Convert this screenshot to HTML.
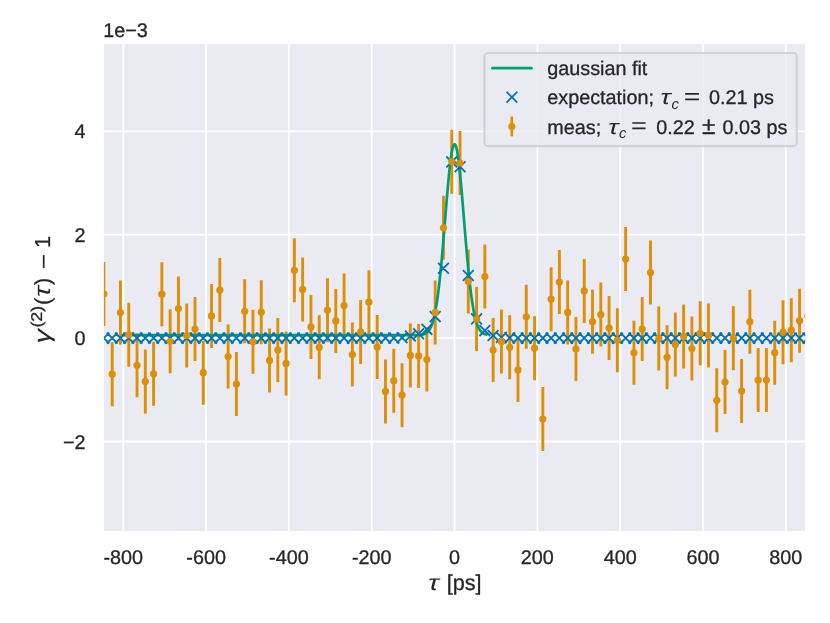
<!DOCTYPE html><html><head><meta charset="utf-8"><style>html,body{margin:0;padding:0;background:#fff}svg{display:block;will-change:transform}text{text-rendering:geometricPrecision;stroke:#262626;stroke-width:0.3px;font-family:"Liberation Sans",sans-serif;fill:#262626}</style></head><body>
<svg width="830" height="623" viewBox="0 0 830 623">
<rect width="830" height="623" fill="#fff"/>
<rect x="103.90" y="44.00" width="701.30" height="487.00" fill="#eaeaf2"/>
<defs><clipPath id="c"><rect x="103.90" y="44.00" width="701.30" height="487.00"/></clipPath></defs>
<g clip-path="url(#c)">
<path d="M123.28 44.00V531.00M206.10 44.00V531.00M288.91 44.00V531.00M371.73 44.00V531.00M454.55 44.00V531.00M537.37 44.00V531.00M620.19 44.00V531.00M703.00 44.00V531.00M785.82 44.00V531.00M103.90 441.50H805.20M103.90 338.10H805.20M103.90 234.70H805.20M103.90 131.30H805.20" stroke="#fff" stroke-width="1.8" fill="none"/>
<path d="M103.90 262.00V326.00M112.18 342.20V406.20M120.46 280.60V344.60M128.75 302.75V366.75M137.03 333.35V397.35M145.31 349.40V413.40M153.59 341.80V405.80M161.87 262.20V326.20M170.15 309.25V373.25M178.44 276.50V340.50M186.72 303.60V367.60M195.00 297.10V361.10M203.28 340.70V404.70M211.56 283.90V347.90M219.85 258.10V322.10M228.13 324.50V388.50M236.41 352.00V416.00M244.69 279.30V343.30M252.97 309.70V373.70M261.25 280.20V344.20M269.54 328.40V392.40M277.82 317.90V381.90M286.10 331.40V395.40M294.38 238.30V302.30M302.66 257.40V321.40M310.95 294.90V358.90M319.23 315.30V379.30M327.51 278.20V342.20M335.79 288.90V352.90M344.07 273.50V337.50M352.35 322.60V386.60M360.64 299.90V363.90M368.92 270.20V334.20M377.20 315.10V379.10M385.48 359.40V423.40M393.76 348.70V412.70M402.04 363.20V427.20M410.33 323.40V387.40M418.61 323.90V387.90M426.89 327.50V391.50M435.17 280.40V344.40M443.45 195.80V259.80M451.74 129.70V193.70M460.02 131.00V195.00M468.30 249.60V313.60M476.58 286.90V350.90M484.86 244.60V308.60M493.14 318.00V382.00M501.43 309.40V373.40M509.71 315.30V379.30M517.99 337.90V401.90M526.27 284.75V348.75M534.55 316.20V380.20M542.84 387.10V451.10M551.12 267.20V331.20M559.40 250.05V314.05M567.68 280.40V344.40M575.96 317.00V381.00M584.24 258.90V322.90M592.53 289.70V353.70M600.81 282.60V346.60M609.09 296.00V360.00M617.37 308.20V372.20M625.65 227.10V291.10M633.94 320.75V384.75M642.22 297.10V361.10M650.50 240.60V304.60M658.78 306.40V370.40M667.06 325.30V389.30M675.34 312.60V376.60M683.63 304.40V368.40M691.91 316.50V380.50M700.19 301.30V365.30M708.47 303.40V367.40M716.75 368.30V432.30M725.03 350.00V414.00M733.32 306.20V370.20M741.60 359.10V423.10M749.88 289.70V353.70M758.16 348.10V412.10M766.44 348.10V412.10M774.73 320.65V384.65M783.01 300.20V364.20M791.29 298.20V362.20M799.57 288.65V352.65M807.85 284.10V348.10" stroke="#de8f05" stroke-width="2.9" fill="none"/>
<polyline points="122.90,335.20 123.40,335.20 123.90,335.20 124.40,335.20 124.90,335.20 125.40,335.20 125.90,335.20 126.40,335.20 126.90,335.20 127.40,335.20 127.90,335.20 128.40,335.20 128.90,335.20 129.40,335.20 129.90,335.20 130.40,335.20 130.90,335.20 131.40,335.20 131.90,335.20 132.40,335.20 132.90,335.20 133.40,335.20 133.90,335.20 134.40,335.20 134.90,335.20 135.40,335.20 135.90,335.20 136.40,335.20 136.90,335.20 137.40,335.20 137.90,335.20 138.40,335.20 138.90,335.20 139.40,335.20 139.90,335.20 140.40,335.20 140.90,335.20 141.40,335.20 141.90,335.20 142.40,335.20 142.90,335.20 143.40,335.20 143.90,335.20 144.40,335.20 144.90,335.20 145.40,335.20 145.90,335.20 146.40,335.20 146.90,335.20 147.40,335.20 147.90,335.20 148.40,335.20 148.90,335.20 149.40,335.20 149.90,335.20 150.40,335.20 150.90,335.20 151.40,335.20 151.90,335.20 152.40,335.20 152.90,335.20 153.40,335.20 153.90,335.20 154.40,335.20 154.90,335.20 155.40,335.20 155.90,335.20 156.40,335.20 156.90,335.20 157.40,335.20 157.90,335.20 158.40,335.20 158.90,335.20 159.40,335.20 159.90,335.20 160.40,335.20 160.90,335.20 161.40,335.20 161.90,335.20 162.40,335.20 162.90,335.20 163.40,335.20 163.90,335.20 164.40,335.20 164.90,335.20 165.40,335.20 165.90,335.20 166.40,335.20 166.90,335.20 167.40,335.20 167.90,335.20 168.40,335.20 168.90,335.20 169.40,335.20 169.90,335.20 170.40,335.20 170.90,335.20 171.40,335.20 171.90,335.20 172.40,335.20 172.90,335.20 173.40,335.20 173.90,335.20 174.40,335.20 174.90,335.20 175.40,335.20 175.90,335.20 176.40,335.20 176.90,335.20 177.40,335.20 177.90,335.20 178.40,335.20 178.90,335.20 179.40,335.20 179.90,335.20 180.40,335.20 180.90,335.20 181.40,335.20 181.90,335.20 182.40,335.20 182.90,335.20 183.40,335.20 183.90,335.20 184.40,335.20 184.90,335.20 185.40,335.20 185.90,335.20 186.40,335.20 186.90,335.20 187.40,335.20 187.90,335.20 188.40,335.20 188.90,335.20 189.40,335.20 189.90,335.20 190.40,335.20 190.90,335.20 191.40,335.20 191.90,335.20 192.40,335.20 192.90,335.20 193.40,335.20 193.90,335.20 194.40,335.20 194.90,335.20 195.40,335.20 195.90,335.20 196.40,335.20 196.90,335.20 197.40,335.20 197.90,335.20 198.40,335.20 198.90,335.20 199.40,335.20 199.90,335.20 200.40,335.20 200.90,335.20 201.40,335.20 201.90,335.20 202.40,335.20 202.90,335.20 203.40,335.20 203.90,335.20 204.40,335.20 204.90,335.20 205.40,335.20 205.90,335.20 206.40,335.20 206.90,335.20 207.40,335.20 207.90,335.20 208.40,335.20 208.90,335.20 209.40,335.20 209.90,335.20 210.40,335.20 210.90,335.20 211.40,335.20 211.90,335.20 212.40,335.20 212.90,335.20 213.40,335.20 213.90,335.20 214.40,335.20 214.90,335.20 215.40,335.20 215.90,335.20 216.40,335.20 216.90,335.20 217.40,335.20 217.90,335.20 218.40,335.20 218.90,335.20 219.40,335.20 219.90,335.20 220.40,335.20 220.90,335.20 221.40,335.20 221.90,335.20 222.40,335.20 222.90,335.20 223.40,335.20 223.90,335.20 224.40,335.20 224.90,335.20 225.40,335.20 225.90,335.20 226.40,335.20 226.90,335.20 227.40,335.20 227.90,335.20 228.40,335.20 228.90,335.20 229.40,335.20 229.90,335.20 230.40,335.20 230.90,335.20 231.40,335.20 231.90,335.20 232.40,335.20 232.90,335.20 233.40,335.20 233.90,335.20 234.40,335.20 234.90,335.20 235.40,335.20 235.90,335.20 236.40,335.20 236.90,335.20 237.40,335.20 237.90,335.20 238.40,335.20 238.90,335.20 239.40,335.20 239.90,335.20 240.40,335.20 240.90,335.20 241.40,335.20 241.90,335.20 242.40,335.20 242.90,335.20 243.40,335.20 243.90,335.20 244.40,335.20 244.90,335.20 245.40,335.20 245.90,335.20 246.40,335.20 246.90,335.20 247.40,335.20 247.90,335.20 248.40,335.20 248.90,335.20 249.40,335.20 249.90,335.20 250.40,335.20 250.90,335.20 251.40,335.20 251.90,335.20 252.40,335.20 252.90,335.20 253.40,335.20 253.90,335.20 254.40,335.20 254.90,335.20 255.40,335.20 255.90,335.20 256.40,335.20 256.90,335.20 257.40,335.20 257.90,335.20 258.40,335.20 258.90,335.20 259.40,335.20 259.90,335.20 260.40,335.20 260.90,335.20 261.40,335.20 261.90,335.20 262.40,335.20 262.90,335.20 263.40,335.20 263.90,335.20 264.40,335.20 264.90,335.20 265.40,335.20 265.90,335.20 266.40,335.20 266.90,335.20 267.40,335.20 267.90,335.20 268.40,335.20 268.90,335.20 269.40,335.20 269.90,335.20 270.40,335.20 270.90,335.20 271.40,335.20 271.90,335.20 272.40,335.20 272.90,335.20 273.40,335.20 273.90,335.20 274.40,335.20 274.90,335.20 275.40,335.20 275.90,335.20 276.40,335.20 276.90,335.20 277.40,335.20 277.90,335.20 278.40,335.20 278.90,335.20 279.40,335.20 279.90,335.20 280.40,335.20 280.90,335.20 281.40,335.20 281.90,335.20 282.40,335.20 282.90,335.20 283.40,335.20 283.90,335.20 284.40,335.20 284.90,335.20 285.40,335.20 285.90,335.20 286.40,335.20 286.90,335.20 287.40,335.20 287.90,335.20 288.40,335.20 288.90,335.20 289.40,335.20 289.90,335.20 290.40,335.20 290.90,335.20 291.40,335.20 291.90,335.20 292.40,335.20 292.90,335.20 293.40,335.20 293.90,335.20 294.40,335.20 294.90,335.20 295.40,335.20 295.90,335.20 296.40,335.20 296.90,335.20 297.40,335.20 297.90,335.20 298.40,335.20 298.90,335.20 299.40,335.20 299.90,335.20 300.40,335.20 300.90,335.20 301.40,335.20 301.90,335.20 302.40,335.20 302.90,335.20 303.40,335.20 303.90,335.20 304.40,335.20 304.90,335.20 305.40,335.20 305.90,335.20 306.40,335.20 306.90,335.20 307.40,335.20 307.90,335.20 308.40,335.20 308.90,335.20 309.40,335.20 309.90,335.20 310.40,335.20 310.90,335.20 311.40,335.20 311.90,335.20 312.40,335.20 312.90,335.20 313.40,335.20 313.90,335.20 314.40,335.20 314.90,335.20 315.40,335.20 315.90,335.20 316.40,335.20 316.90,335.20 317.40,335.20 317.90,335.20 318.40,335.20 318.90,335.20 319.40,335.20 319.90,335.20 320.40,335.20 320.90,335.20 321.40,335.20 321.90,335.20 322.40,335.20 322.90,335.20 323.40,335.20 323.90,335.20 324.40,335.20 324.90,335.20 325.40,335.20 325.90,335.20 326.40,335.20 326.90,335.20 327.40,335.20 327.90,335.20 328.40,335.20 328.90,335.20 329.40,335.20 329.90,335.20 330.40,335.20 330.90,335.20 331.40,335.20 331.90,335.20 332.40,335.20 332.90,335.20 333.40,335.20 333.90,335.20 334.40,335.20 334.90,335.20 335.40,335.20 335.90,335.20 336.40,335.20 336.90,335.20 337.40,335.20 337.90,335.20 338.40,335.20 338.90,335.20 339.40,335.20 339.90,335.20 340.40,335.20 340.90,335.20 341.40,335.20 341.90,335.20 342.40,335.20 342.90,335.20 343.40,335.20 343.90,335.20 344.40,335.20 344.90,335.20 345.40,335.20 345.90,335.20 346.40,335.20 346.90,335.20 347.40,335.20 347.90,335.20 348.40,335.20 348.90,335.20 349.40,335.20 349.90,335.20 350.40,335.20 350.90,335.20 351.40,335.20 351.90,335.20 352.40,335.20 352.90,335.20 353.40,335.20 353.90,335.20 354.40,335.20 354.90,335.20 355.40,335.20 355.90,335.20 356.40,335.20 356.90,335.20 357.40,335.20 357.90,335.20 358.40,335.20 358.90,335.20 359.40,335.20 359.90,335.20 360.40,335.20 360.90,335.20 361.40,335.20 361.90,335.20 362.40,335.20 362.90,335.20 363.40,335.20 363.90,335.20 364.40,335.20 364.90,335.20 365.40,335.20 365.90,335.20 366.40,335.20 366.90,335.20 367.40,335.20 367.90,335.20 368.40,335.20 368.90,335.20 369.40,335.20 369.90,335.20 370.40,335.20 370.90,335.20 371.40,335.20 371.90,335.20 372.40,335.20 372.90,335.20 373.40,335.20 373.90,335.20 374.40,335.20 374.90,335.20 375.40,335.20 375.90,335.20 376.40,335.20 376.90,335.20 377.40,335.20 377.90,335.20 378.40,335.20 378.90,335.20 379.40,335.20 379.90,335.20 380.40,335.20 380.90,335.20 381.40,335.20 381.90,335.20 382.40,335.20 382.90,335.20 383.40,335.20 383.90,335.20 384.40,335.20 384.90,335.20 385.40,335.20 385.90,335.20 386.40,335.20 386.90,335.20 387.40,335.20 387.90,335.20 388.40,335.20 388.90,335.20 389.40,335.20 389.90,335.20 390.40,335.20 390.90,335.20 391.40,335.20 391.90,335.20 392.40,335.20 392.90,335.20 393.40,335.20 393.90,335.20 394.40,335.20 394.90,335.20 395.40,335.20 395.90,335.20 396.40,335.20 396.90,335.20 397.40,335.20 397.90,335.20 398.40,335.20 398.90,335.20 399.40,335.20 399.90,335.20 400.40,335.20 400.90,335.20 401.40,335.20 401.90,335.20 402.40,335.20 402.90,335.20 403.40,335.20 403.90,335.20 404.40,335.20 404.90,335.20 405.40,335.20 405.90,335.20 406.40,335.20 406.90,335.20 407.40,335.20 407.90,335.20 408.40,335.20 408.90,335.20 409.40,335.20 409.90,335.20 410.40,335.20 410.90,335.20 411.40,335.19 411.90,335.19 412.40,335.19 412.90,335.19 413.40,335.19 413.90,335.18 414.40,335.18 414.90,335.17 415.40,335.16 415.90,335.16 416.40,335.15 416.90,335.13 417.40,335.12 417.90,335.10 418.40,335.08 418.90,335.05 419.40,335.01 419.90,334.97 420.40,334.93 420.90,334.87 421.40,334.80 421.90,334.72 422.40,334.62 422.90,334.51 423.40,334.38 423.90,334.22 424.40,334.04 424.90,333.82 425.40,333.58 425.90,333.29 426.40,332.96 426.90,332.58 427.40,332.15 427.90,331.65 428.40,331.08 428.90,330.44 429.40,329.71 429.90,328.89 430.40,327.96 430.90,326.92 431.40,325.76 431.90,324.47 432.40,323.03 432.90,321.44 433.40,319.68 433.90,317.75 434.40,315.64 434.90,313.33 435.40,310.81 435.90,308.08 436.40,305.13 436.90,301.96 437.40,298.55 437.90,294.90 438.40,291.02 438.90,286.90 439.40,282.54 439.90,277.94 440.40,273.13 440.90,268.09 441.40,262.85 441.90,257.42 442.40,251.82 442.90,246.06 443.40,240.17 443.90,234.18 444.40,228.11 444.90,221.99 445.40,215.86 445.90,209.75 446.40,203.69 446.90,197.73 447.40,191.90 447.90,186.25 448.40,180.80 448.90,175.61 449.40,170.70 449.90,166.11 450.40,161.88 450.90,158.05 451.40,154.64 451.90,151.68 452.40,149.19 452.90,147.19 453.40,145.71 453.90,144.75 454.40,144.32 454.90,144.43 455.40,145.07 455.90,146.24 456.40,147.93 456.90,150.12 457.40,152.80 457.90,155.95 458.40,159.53 458.90,163.53 459.40,167.90 459.90,172.62 460.40,177.65 460.90,182.95 461.40,188.49 461.90,194.22 462.40,200.10 462.90,206.10 463.40,212.19 463.90,218.31 464.40,224.44 464.90,230.54 465.40,236.58 465.90,242.54 466.40,248.38 466.90,254.08 467.40,259.61 467.90,264.97 468.40,270.13 468.90,275.08 469.40,279.81 469.90,284.31 470.40,288.57 470.90,292.60 471.40,296.39 471.90,299.94 472.40,303.25 472.90,306.34 473.40,309.20 473.90,311.84 474.40,314.27 474.90,316.51 475.40,318.55 475.90,320.41 476.40,322.09 476.90,323.62 477.40,325.00 477.90,326.24 478.40,327.35 478.90,328.35 479.40,329.23 479.90,330.01 480.40,330.71 480.90,331.32 481.40,331.86 481.90,332.33 482.40,332.74 482.90,333.10 483.40,333.41 483.90,333.68 484.40,333.91 484.90,334.11 485.40,334.28 485.90,334.43 486.40,334.56" stroke="#029e73" stroke-width="2.7" fill="none" stroke-linecap="round" stroke-linejoin="round"/>
<path d="M98.50 332.70L109.30 343.50M98.50 343.50L109.30 332.70M106.78 332.70L117.58 343.50M106.78 343.50L117.58 332.70M115.06 332.70L125.86 343.50M115.06 343.50L125.86 332.70M123.35 332.70L134.15 343.50M123.35 343.50L134.15 332.70M131.63 332.70L142.43 343.50M131.63 343.50L142.43 332.70M139.91 332.70L150.71 343.50M139.91 343.50L150.71 332.70M148.19 332.70L158.99 343.50M148.19 343.50L158.99 332.70M156.47 332.70L167.27 343.50M156.47 343.50L167.27 332.70M164.75 332.70L175.55 343.50M164.75 343.50L175.55 332.70M173.04 332.70L183.84 343.50M173.04 343.50L183.84 332.70M181.32 332.70L192.12 343.50M181.32 343.50L192.12 332.70M189.60 332.70L200.40 343.50M189.60 343.50L200.40 332.70M197.88 332.70L208.68 343.50M197.88 343.50L208.68 332.70M206.16 332.70L216.96 343.50M206.16 343.50L216.96 332.70M214.45 332.70L225.25 343.50M214.45 343.50L225.25 332.70M222.73 332.70L233.53 343.50M222.73 343.50L233.53 332.70M231.01 332.70L241.81 343.50M231.01 343.50L241.81 332.70M239.29 332.70L250.09 343.50M239.29 343.50L250.09 332.70M247.57 332.70L258.37 343.50M247.57 343.50L258.37 332.70M255.85 332.70L266.65 343.50M255.85 343.50L266.65 332.70M264.14 332.70L274.94 343.50M264.14 343.50L274.94 332.70M272.42 332.70L283.22 343.50M272.42 343.50L283.22 332.70M280.70 332.70L291.50 343.50M280.70 343.50L291.50 332.70M288.98 332.70L299.78 343.50M288.98 343.50L299.78 332.70M297.26 332.70L308.06 343.50M297.26 343.50L308.06 332.70M305.55 332.70L316.35 343.50M305.55 343.50L316.35 332.70M313.83 332.70L324.63 343.50M313.83 343.50L324.63 332.70M322.11 332.70L332.91 343.50M322.11 343.50L332.91 332.70M330.39 332.70L341.19 343.50M330.39 343.50L341.19 332.70M338.67 332.70L349.47 343.50M338.67 343.50L349.47 332.70M346.95 332.70L357.75 343.50M346.95 343.50L357.75 332.70M355.24 332.70L366.04 343.50M355.24 343.50L366.04 332.70M363.52 332.70L374.32 343.50M363.52 343.50L374.32 332.70M371.80 332.70L382.60 343.50M371.80 343.50L382.60 332.70M380.08 332.70L390.88 343.50M380.08 343.50L390.88 332.70M388.36 332.70L399.16 343.50M388.36 343.50L399.16 332.70M396.64 332.30L407.44 343.10M396.64 343.10L407.44 332.30M404.93 330.60L415.73 341.40M404.93 341.40L415.73 330.60M413.21 328.40L424.01 339.20M413.21 339.20L424.01 328.40M421.49 323.95L432.29 334.75M421.49 334.75L432.29 323.95M429.77 311.20L440.57 322.00M429.77 322.00L440.57 311.20M438.05 262.80L448.85 273.60M438.05 273.60L448.85 262.80M446.34 156.50L457.14 167.30M446.34 167.30L457.14 156.50M454.62 161.40L465.42 172.20M454.62 172.20L465.42 161.40M462.90 270.10L473.70 280.90M462.90 280.90L473.70 270.10M471.18 313.50L481.98 324.30M471.18 324.30L481.98 313.50M479.46 325.20L490.26 336.00M479.46 336.00L490.26 325.20M487.74 330.10L498.54 340.90M487.74 340.90L498.54 330.10M496.03 331.95L506.83 342.75M496.03 342.75L506.83 331.95M504.31 332.50L515.11 343.30M504.31 343.30L515.11 332.50M512.59 332.70L523.39 343.50M512.59 343.50L523.39 332.70M520.87 332.70L531.67 343.50M520.87 343.50L531.67 332.70M529.15 332.70L539.95 343.50M529.15 343.50L539.95 332.70M537.44 332.70L548.24 343.50M537.44 343.50L548.24 332.70M545.72 332.70L556.52 343.50M545.72 343.50L556.52 332.70M554.00 332.70L564.80 343.50M554.00 343.50L564.80 332.70M562.28 332.70L573.08 343.50M562.28 343.50L573.08 332.70M570.56 332.70L581.36 343.50M570.56 343.50L581.36 332.70M578.84 332.70L589.64 343.50M578.84 343.50L589.64 332.70M587.13 332.70L597.93 343.50M587.13 343.50L597.93 332.70M595.41 332.70L606.21 343.50M595.41 343.50L606.21 332.70M603.69 332.70L614.49 343.50M603.69 343.50L614.49 332.70M611.97 332.70L622.77 343.50M611.97 343.50L622.77 332.70M620.25 332.70L631.05 343.50M620.25 343.50L631.05 332.70M628.54 332.70L639.34 343.50M628.54 343.50L639.34 332.70M636.82 332.70L647.62 343.50M636.82 343.50L647.62 332.70M645.10 332.70L655.90 343.50M645.10 343.50L655.90 332.70M653.38 332.70L664.18 343.50M653.38 343.50L664.18 332.70M661.66 332.70L672.46 343.50M661.66 343.50L672.46 332.70M669.94 332.70L680.74 343.50M669.94 343.50L680.74 332.70M678.23 332.70L689.03 343.50M678.23 343.50L689.03 332.70M686.51 332.70L697.31 343.50M686.51 343.50L697.31 332.70M694.79 332.70L705.59 343.50M694.79 343.50L705.59 332.70M703.07 332.70L713.87 343.50M703.07 343.50L713.87 332.70M711.35 332.70L722.15 343.50M711.35 343.50L722.15 332.70M719.63 332.70L730.43 343.50M719.63 343.50L730.43 332.70M727.92 332.70L738.72 343.50M727.92 343.50L738.72 332.70M736.20 332.70L747.00 343.50M736.20 343.50L747.00 332.70M744.48 332.70L755.28 343.50M744.48 343.50L755.28 332.70M752.76 332.70L763.56 343.50M752.76 343.50L763.56 332.70M761.04 332.70L771.84 343.50M761.04 343.50L771.84 332.70M769.33 332.70L780.13 343.50M769.33 343.50L780.13 332.70M777.61 332.70L788.41 343.50M777.61 343.50L788.41 332.70M785.89 332.70L796.69 343.50M785.89 343.50L796.69 332.70M794.17 332.70L804.97 343.50M794.17 343.50L804.97 332.70M802.45 332.70L813.25 343.50M802.45 343.50L813.25 332.70" stroke="#0173b2" stroke-width="1.8" fill="none"/>
<circle cx="103.90" cy="294.00" r="3.6" fill="#de8f05"/>
<circle cx="112.18" cy="374.20" r="3.6" fill="#de8f05"/>
<circle cx="120.46" cy="312.60" r="3.6" fill="#de8f05"/>
<circle cx="128.75" cy="334.75" r="3.6" fill="#de8f05"/>
<circle cx="137.03" cy="365.35" r="3.6" fill="#de8f05"/>
<circle cx="145.31" cy="381.40" r="3.6" fill="#de8f05"/>
<circle cx="153.59" cy="373.80" r="3.6" fill="#de8f05"/>
<circle cx="161.87" cy="294.20" r="3.6" fill="#de8f05"/>
<circle cx="170.15" cy="341.25" r="3.6" fill="#de8f05"/>
<circle cx="178.44" cy="308.50" r="3.6" fill="#de8f05"/>
<circle cx="186.72" cy="335.60" r="3.6" fill="#de8f05"/>
<circle cx="195.00" cy="329.10" r="3.6" fill="#de8f05"/>
<circle cx="203.28" cy="372.70" r="3.6" fill="#de8f05"/>
<circle cx="211.56" cy="315.90" r="3.6" fill="#de8f05"/>
<circle cx="219.85" cy="290.10" r="3.6" fill="#de8f05"/>
<circle cx="228.13" cy="356.50" r="3.6" fill="#de8f05"/>
<circle cx="236.41" cy="384.00" r="3.6" fill="#de8f05"/>
<circle cx="244.69" cy="311.30" r="3.6" fill="#de8f05"/>
<circle cx="252.97" cy="341.70" r="3.6" fill="#de8f05"/>
<circle cx="261.25" cy="312.20" r="3.6" fill="#de8f05"/>
<circle cx="269.54" cy="360.40" r="3.6" fill="#de8f05"/>
<circle cx="277.82" cy="349.90" r="3.6" fill="#de8f05"/>
<circle cx="286.10" cy="363.40" r="3.6" fill="#de8f05"/>
<circle cx="294.38" cy="270.30" r="3.6" fill="#de8f05"/>
<circle cx="302.66" cy="289.40" r="3.6" fill="#de8f05"/>
<circle cx="310.95" cy="326.90" r="3.6" fill="#de8f05"/>
<circle cx="319.23" cy="347.30" r="3.6" fill="#de8f05"/>
<circle cx="327.51" cy="310.20" r="3.6" fill="#de8f05"/>
<circle cx="335.79" cy="320.90" r="3.6" fill="#de8f05"/>
<circle cx="344.07" cy="305.50" r="3.6" fill="#de8f05"/>
<circle cx="352.35" cy="354.60" r="3.6" fill="#de8f05"/>
<circle cx="360.64" cy="331.90" r="3.6" fill="#de8f05"/>
<circle cx="368.92" cy="302.20" r="3.6" fill="#de8f05"/>
<circle cx="377.20" cy="347.10" r="3.6" fill="#de8f05"/>
<circle cx="385.48" cy="391.40" r="3.6" fill="#de8f05"/>
<circle cx="393.76" cy="380.70" r="3.6" fill="#de8f05"/>
<circle cx="402.04" cy="395.20" r="3.6" fill="#de8f05"/>
<circle cx="410.33" cy="355.40" r="3.6" fill="#de8f05"/>
<circle cx="418.61" cy="355.90" r="3.6" fill="#de8f05"/>
<circle cx="426.89" cy="359.50" r="3.6" fill="#de8f05"/>
<circle cx="435.17" cy="312.40" r="3.6" fill="#de8f05"/>
<circle cx="443.45" cy="227.80" r="3.6" fill="#de8f05"/>
<circle cx="451.74" cy="161.70" r="3.6" fill="#de8f05"/>
<circle cx="460.02" cy="163.00" r="3.6" fill="#de8f05"/>
<circle cx="468.30" cy="281.60" r="3.6" fill="#de8f05"/>
<circle cx="476.58" cy="318.90" r="3.6" fill="#de8f05"/>
<circle cx="484.86" cy="276.60" r="3.6" fill="#de8f05"/>
<circle cx="493.14" cy="350.00" r="3.6" fill="#de8f05"/>
<circle cx="501.43" cy="341.40" r="3.6" fill="#de8f05"/>
<circle cx="509.71" cy="347.30" r="3.6" fill="#de8f05"/>
<circle cx="517.99" cy="369.90" r="3.6" fill="#de8f05"/>
<circle cx="526.27" cy="316.75" r="3.6" fill="#de8f05"/>
<circle cx="534.55" cy="348.20" r="3.6" fill="#de8f05"/>
<circle cx="542.84" cy="419.10" r="3.6" fill="#de8f05"/>
<circle cx="551.12" cy="299.20" r="3.6" fill="#de8f05"/>
<circle cx="559.40" cy="282.05" r="3.6" fill="#de8f05"/>
<circle cx="567.68" cy="312.40" r="3.6" fill="#de8f05"/>
<circle cx="575.96" cy="349.00" r="3.6" fill="#de8f05"/>
<circle cx="584.24" cy="290.90" r="3.6" fill="#de8f05"/>
<circle cx="592.53" cy="321.70" r="3.6" fill="#de8f05"/>
<circle cx="600.81" cy="314.60" r="3.6" fill="#de8f05"/>
<circle cx="609.09" cy="328.00" r="3.6" fill="#de8f05"/>
<circle cx="617.37" cy="340.20" r="3.6" fill="#de8f05"/>
<circle cx="625.65" cy="259.10" r="3.6" fill="#de8f05"/>
<circle cx="633.94" cy="352.75" r="3.6" fill="#de8f05"/>
<circle cx="642.22" cy="329.10" r="3.6" fill="#de8f05"/>
<circle cx="650.50" cy="272.60" r="3.6" fill="#de8f05"/>
<circle cx="658.78" cy="338.40" r="3.6" fill="#de8f05"/>
<circle cx="667.06" cy="357.30" r="3.6" fill="#de8f05"/>
<circle cx="675.34" cy="344.60" r="3.6" fill="#de8f05"/>
<circle cx="683.63" cy="336.40" r="3.6" fill="#de8f05"/>
<circle cx="691.91" cy="348.50" r="3.6" fill="#de8f05"/>
<circle cx="700.19" cy="333.30" r="3.6" fill="#de8f05"/>
<circle cx="708.47" cy="335.40" r="3.6" fill="#de8f05"/>
<circle cx="716.75" cy="400.30" r="3.6" fill="#de8f05"/>
<circle cx="725.03" cy="382.00" r="3.6" fill="#de8f05"/>
<circle cx="733.32" cy="338.20" r="3.6" fill="#de8f05"/>
<circle cx="741.60" cy="391.10" r="3.6" fill="#de8f05"/>
<circle cx="749.88" cy="321.70" r="3.6" fill="#de8f05"/>
<circle cx="758.16" cy="380.10" r="3.6" fill="#de8f05"/>
<circle cx="766.44" cy="380.10" r="3.6" fill="#de8f05"/>
<circle cx="774.73" cy="352.65" r="3.6" fill="#de8f05"/>
<circle cx="783.01" cy="332.20" r="3.6" fill="#de8f05"/>
<circle cx="791.29" cy="330.20" r="3.6" fill="#de8f05"/>
<circle cx="799.57" cy="320.65" r="3.6" fill="#de8f05"/>
<circle cx="807.85" cy="316.10" r="3.6" fill="#de8f05"/>
</g>
<rect x="484.4" y="53.0" width="312.4" height="93.1" rx="3.6" fill="#eaeaf2" fill-opacity="0.8" stroke="#cccccc" stroke-opacity="0.85" stroke-width="2.1"/>
<path d="M492.4 68.15H531.5" stroke="#029e73" stroke-width="2.7" stroke-linecap="round"/>
<path d="M506.50 91.80L517.30 102.60M506.50 102.60L517.30 91.80" stroke="#0173b2" stroke-width="1.8"/>
<path d="M511.8 116.5V136.4" stroke="#de8f05" stroke-width="2.7"/><circle cx="511.8" cy="126.5" r="3.6" fill="#de8f05"/>
<text x="547.3" y="75.3" font-size="19.8">gaussian fit</text>
<text x="547.3" y="104.4" font-size="19.8">expectation;</text>
<text transform="translate(660.6 104.4) scale(1.3 1)" font-size="21" font-style="italic" style="stroke:none">τ</text>
<text x="671.5" y="108.6" font-size="14.7" font-style="italic" style="stroke:none">c</text>
<path d="M685.2 93.9H698.9M685.2 99.3H698.9" stroke="#262626" stroke-width="1.7"/>
<text x="708.9" y="104.4" font-size="19.8">0.21 ps</text>
<text x="547.3" y="133.5" font-size="19.8">meas;</text>
<text transform="translate(608.2 133.5) scale(1.3 1)" font-size="21" font-style="italic" style="stroke:none">τ</text>
<text x="619.1" y="137.7" font-size="14.7" font-style="italic" style="stroke:none">c</text>
<path d="M632.3 123H645.6M632.3 128.4H645.6" stroke="#262626" stroke-width="1.7"/>
<text x="656.2" y="133.5" font-size="19.8">0.22</text>
<text x="708.75" y="133.5" font-size="24.5" text-anchor="middle">±</text>
<text x="722.6" y="133.5" font-size="19.8">0.03 ps</text>
<text x="123.28" y="563.9" font-size="19.8" text-anchor="middle">-800</text>
<text x="206.10" y="563.9" font-size="19.8" text-anchor="middle">-600</text>
<text x="288.91" y="563.9" font-size="19.8" text-anchor="middle">-400</text>
<text x="371.73" y="563.9" font-size="19.8" text-anchor="middle">-200</text>
<text x="454.55" y="563.9" font-size="19.8" text-anchor="middle">0</text>
<text x="537.37" y="563.9" font-size="19.8" text-anchor="middle">200</text>
<text x="620.19" y="563.9" font-size="19.8" text-anchor="middle">400</text>
<text x="703.00" y="563.9" font-size="19.8" text-anchor="middle">600</text>
<text x="785.82" y="563.9" font-size="19.8" text-anchor="middle">800</text>
<text x="85.6" y="448.50" font-size="19.8" text-anchor="end">−2</text>
<text x="85.6" y="345.10" font-size="19.8" text-anchor="end">0</text>
<text x="85.6" y="241.70" font-size="19.8" text-anchor="end">2</text>
<text x="85.6" y="138.30" font-size="19.8" text-anchor="end">4</text>
<text x="103.3" y="37.4" font-size="19.8">1e−3</text>
<text transform="translate(428.3 589.8) scale(1.3 1)" font-size="22" font-style="italic" style="stroke:none">τ</text>
<text x="446.7" y="589.8" font-size="21.67">[ps]</text>
<g transform="translate(50.1 340.5) rotate(-90)">
<text transform="translate(-3 0) scale(1.25 1)" font-size="23" font-style="italic" style="stroke:none">γ</text>
<text transform="translate(12.9 -8.3) scale(1.14 1)" font-size="15.6">(2)</text>
<text x="35.5" y="0" font-size="21.67">(</text>
<text transform="translate(43.6 0) scale(1.28 1)" font-size="23" font-style="italic" style="stroke:none">τ</text>
<text x="55.6" y="0" font-size="21.67">)</text>
<path d="M72.4 -6.4H85.4" stroke="#262626" stroke-width="1.7"/>
<text x="92.5" y="0" font-size="21.67">1</text>
</g>
</svg></body></html>
